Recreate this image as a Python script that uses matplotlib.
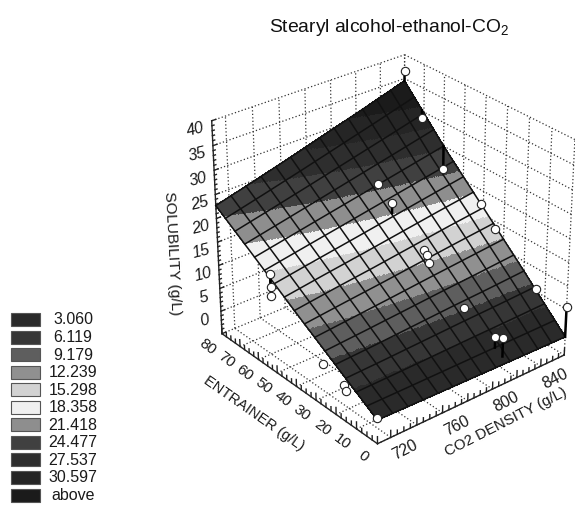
import numpy as np
import matplotlib
matplotlib.use("Agg")
import matplotlib.pyplot as plt
from matplotlib.patches import Rectangle
from matplotlib.colors import to_rgba
from mpl_toolkits.mplot3d import proj3d

plt.rcParams['font.family'] = ['Liberation Sans', 'DejaVu Sans']
plt.rcParams['mathtext.default'] = 'regular'

# ---- data ----
title = "Stearyl alcohol-ethanol-CO$_2$"
legend_labels = ["3.060", "6.119", "9.179", "12.239", "15.298", "18.358",
                 "21.418", "24.477", "27.537", "30.597", "above"]
levels = [3.060, 6.119, 9.179, 12.239, 15.298, 18.358, 21.418, 24.477, 27.537, 30.597]
band_colors = ["#2a2a2a", "#363636", "#5e5e5e", "#909090", "#d2d2d2", "#f0f0f0",
               "#8e8e8e", "#404040", "#2e2e2e", "#252525", "#1b1b1b"]

density_nodes = [710, 740, 770, 800, 830, 860]
entrainer_nodes = [0, 20, 40, 60, 80]
solubility_table = [
    [0.0, -0.2, -0.4, -0.6, -0.8, -1.0],
    [5.6, 6.0, 6.5, 7.0, 7.4, 7.9],
    [11.2, 12.3, 13.3, 14.4, 15.5, 16.5],
    [17.0, 18.6, 20.2, 21.8, 23.4, 25.0],
    [22.7, 24.9, 27.2, 29.6, 32.0, 34.5],
]

pt_density = [860, 860, 860, 860, 860, 860, 860,
              806, 803, 806, 807, 805, 807, 810, 811,
              710, 710, 710, 710, 710, 710, 710]
pt_entrainer = [80, 71, 60, 41, 34, 14, 0,
                60, 51, 37, 36, 34, 18, 5, 2,
                52, 52, 52, 26, 16, 15, 0]
pt_solubility = [36.5, 28.5, 20.0, 17.0, 13.5, 5.5, 5.5,
                 22.3, 20.8, 14.0, 13.0, 12.0, 6.5, 3.5, 4.0,
                 15.5, 12.8, 11.0, 4.0, 2.4, 1.6, 0.5]
points_without_stem = [18, 19, 20]

density_limits = (710, 860)
entrainer_limits = (0, 80)
solubility_limits = (-5, 40)
density_grid = [720, 740, 760, 780, 800, 820, 840, 860]
density_labels = [720, 760, 800, 840]
entrainer_grid = [0, 10, 20, 30, 40, 50, 60, 70, 80]
solubility_grid = [0, 5, 10, 15, 20, 25, 30, 35, 40]
n_mesh_d, n_mesh_e = 13, 16

# ---- figure ----
fig = plt.figure(figsize=(5.75, 5.07), dpi=100)
W, H = 575.0, 507.0
cx, cy, side = 386.0, 246.0, 419.0
ax = fig.add_axes([(cx - side/2)/W, 1 - (cy + side/2)/H, side/W, side/H],
                  projection='3d', computed_zorder=False)
ax.set_proj_type('persp', focal_length=0.9)
ax.view_init(elev=29.5, azim=-129.5)
ax.set_box_aspect((250, 260, 250), zoom=1.0)
ax.set_xlim(*density_limits); ax.set_ylim(*entrainer_limits); ax.set_zlim(*solubility_limits)
ax.set_axis_off()
ax.patch.set_alpha(0)

d0, d1 = density_limits; e0, e1 = entrainer_limits; z0, z1 = solubility_limits

def surf(d, e):
    d = np.asarray(d, float); e = np.asarray(e, float)
    t = np.asarray(solubility_table)
    dn = np.asarray(density_nodes, float); en = np.asarray(entrainer_nodes, float)
    i = np.clip(np.searchsorted(dn, d) - 1, 0, len(dn) - 2)
    j = np.clip(np.searchsorted(en, e) - 1, 0, len(en) - 2)
    a = (d - dn[i]) / (dn[i+1] - dn[i]); b = (e - en[j]) / (en[j+1] - en[j])
    return (t[j, i]*(1-a)*(1-b) + t[j, i+1]*a*(1-b) + t[j+1, i]*(1-a)*b + t[j+1, i+1]*a*b)

def label3d(d, e, z, s, dx, dy, rot, **kw):
    x2, y2, _ = proj3d.proj_transform(d, e, z, ax.get_proj())
    ax.annotate(s, xy=(x2, y2), xycoords='data', xytext=(dx, -dy), textcoords='offset pixels',
                ha='center', va='center', rotation=rot, rotation_mode='anchor',
                color='#1a1a1a', annotation_clip=False, zorder=7, **kw)

# walls and floor
dot = dict(color='#333333', lw=0.9, ls=(0, (1, 1.8)), zorder=1)
for d in density_grid:
    ax.plot([d, d], [e1, e1], [z0, z1], **dot)
    ax.plot([d, d], [e0, e1], [z0, z0], **dot)
for e in entrainer_grid:
    ax.plot([d1, d1], [e, e], [z0, z1], **dot)
    ax.plot([d0, d1], [e, e], [z0, z0], **dot)
for z in solubility_grid:
    ax.plot([d0, d1], [e1, e1], [z, z], **dot)
    ax.plot([d1, d1], [e0, e1], [z, z], **dot)

# solid axes with ticks
solid = dict(color='#222222', lw=1.0, zorder=2)
ax.plot([d0, d0], [e1, e1], [z0, z1], **solid)
ax.plot([d0, d0], [e0, e1], [z0, z0], **solid)
ax.plot([d0, d1], [e0, e0], [z0, z0], **solid)
for e in np.arange(e0, e1 + .1, 2.5):
    ax.plot([d0, d0], [e, e], [z0, z0 + (0.9 if e % 10 else 1.5)], **solid)
for d in np.arange(720, d1 + .1, 5):
    ax.plot([d, d], [e0, e0], [z0, z0 + (0.9 if d % 20 else 1.5)], **solid)
for z in np.arange(z0, z1 + .1, 1):
    ax.plot([d0, d0 + (1.5 if z % 5 else 3)], [e1, e1], [z, z], **solid)

# surface bands
fd = np.linspace(d0, d1, 211); fe = np.linspace(e0, e1, 241)
FD, FE = np.meshgrid(fd, fe)
FZ = surf(FD, FE)
mid = (FZ[:-1, :-1] + FZ[1:, 1:]) / 2
idx = np.searchsorted(levels, mid)
rgba = np.array([to_rgba(c) for c in band_colors])
ax.plot_surface(FD, FE, FZ, facecolors=rgba[idx], rstride=1, cstride=1, shade=False,
                linewidth=0.4, antialiased=False, zorder=3)

# surface mesh
mesh = dict(color='#111111', lw=1.1, zorder=4)
for d in np.linspace(d0, d1, n_mesh_d + 1):
    ee = np.linspace(e0, e1, 60)
    ax.plot(np.full_like(ee, d), ee, surf(np.full_like(ee, d), ee), **mesh)
for e in np.linspace(e0, e1, n_mesh_e + 1):
    dd = np.linspace(d0, d1, 60)
    ax.plot(dd, np.full_like(dd, e), surf(dd, np.full_like(dd, e)), **mesh)

# stems and points
for i, (d, e, z) in enumerate(zip(pt_density, pt_entrainer, pt_solubility)):
    if i not in points_without_stem:
        ax.plot([d, d], [e, e], [z, float(surf(d, e))], color='black', lw=1.8, zorder=5)
ax.plot(pt_density, pt_entrainer, pt_solubility, ls='none', marker='o', ms=6,
        mfc='white', mec='#222222', mew=0.8, zorder=6)

# tick labels and axis titles
for z in solubility_grid:
    label3d(d0, e1, z, str(z), -16, 9, 14, fontsize=11.5, style='italic')
for e in entrainer_grid:
    label3d(d0, e, z0, str(e), -14, 13, -37, fontsize=11)
for d in density_labels:
    label3d(d, e0, z0, str(d), 14, 13, 27, fontsize=11.5)
label3d(d0, 40, z0, "ENTRAINER (g/L)", -43, 27, -35, fontsize=10.5)
label3d(790, e0, z0, "CO2 DENSITY (g/L)", 26, 27, 27, fontsize=10.8)

# overlay in picture pixels for title and legend
ov = fig.add_axes([0, 0, 1, 1]); ov.set_xlim(0, W); ov.set_ylim(H, 0); ov.axis('off'); ov.patch.set_alpha(0)
ov.text(389, 27, title, ha='center', va='center', fontsize=13.9, color='#111111')
ov.text(172, 253, "SOLUBILITY (g/L)", rotation=-87, ha='center', va='center', fontsize=11, color='#1a1a1a')
for i, (c, t) in enumerate(zip(band_colors, legend_labels)):
    y = 313 + i * 17.55
    ov.add_patch(Rectangle((11, y), 29, 13, fc=c, ec='#555555', lw=0.8))
    ov.text(73, y + 7, t, ha='center', va='center', fontsize=11.5, color='#1a1a1a')

fig.savefig("out.png", dpi=100)
